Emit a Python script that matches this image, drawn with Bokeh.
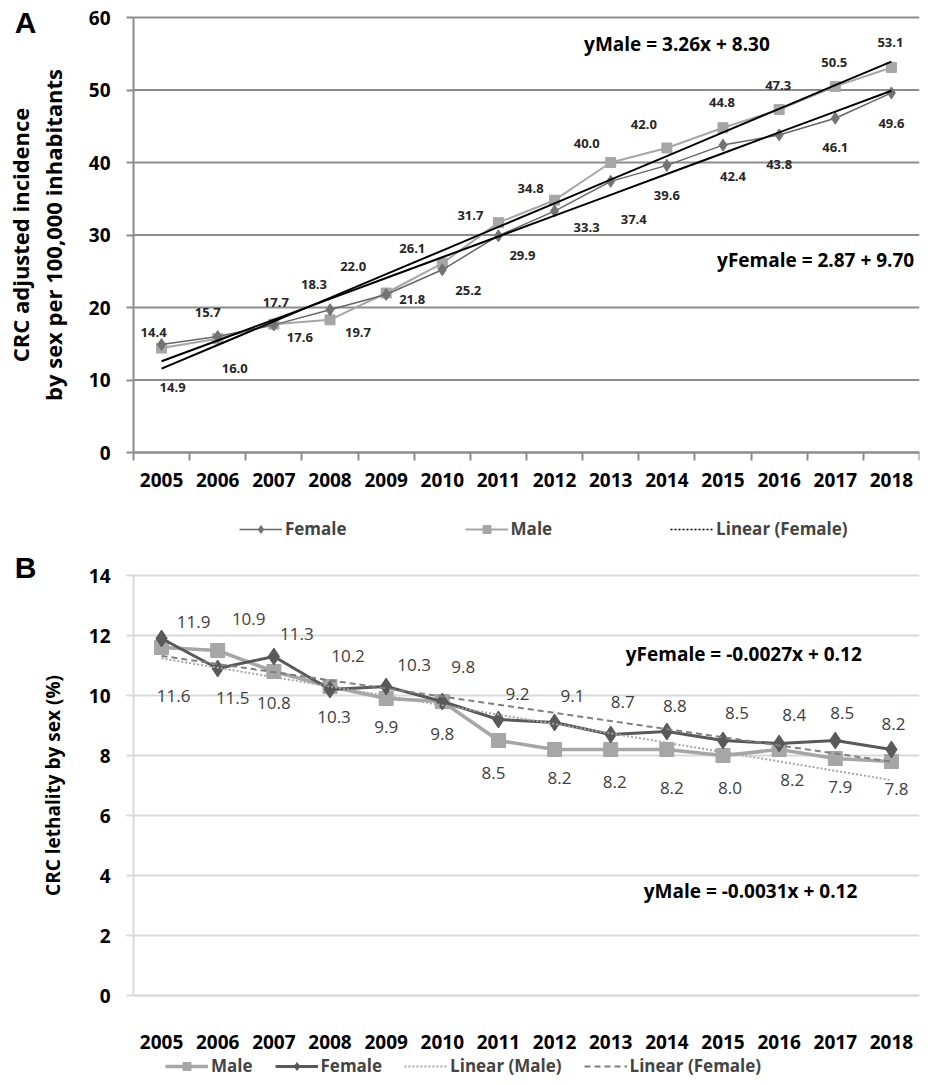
import numpy as np
from bokeh.plotting import figure
from bokeh.models import (ColumnDataSource, FixedTicker, Legend, LegendItem, Label, Range1d)
from bokeh.layouts import column
from bokeh.embed import file_html
from bokeh.resources import INLINE
from bokeh.core.properties import value

# ---------------- data ----------------
years = [2005, 2006, 2007, 2008, 2009, 2010, 2011, 2012, 2013, 2014, 2015, 2016, 2017, 2018]
inc_female = [14.9, 16.0, 17.6, 19.7, 21.8, 25.2, 29.9, 33.3, 37.4, 39.6, 42.4, 43.8, 46.1, 49.6]
inc_male = [14.4, 15.7, 17.7, 18.3, 22.0, 26.1, 31.7, 34.8, 40.0, 42.0, 44.8, 47.3, 50.5, 53.1]
let_male = [11.6, 11.5, 10.8, 10.3, 9.9, 9.8, 8.5, 8.2, 8.2, 8.2, 8.0, 8.2, 7.9, 7.8]
let_female = [11.9, 10.9, 11.3, 10.2, 10.3, 9.8, 9.2, 9.1, 8.7, 8.8, 8.5, 8.4, 8.5, 8.2]
a_ticks = [0, 10, 20, 30, 40, 50, 60]
b_ticks = [0, 2, 4, 6, 8, 10, 12, 14]
eq_a_male = "yMale = 3.26x + 8.30"
eq_a_female = "yFemale = 2.87 + 9.70"
eq_b_female = "yFemale = -0.0027x + 0.12"
eq_b_male = "yMale = -0.0031x + 0.12"

# label pixel offsets (dx right, dy down)
off_a_male = [(-8, -16), (-10, -26), (2, -22), (-16, -35), (-33, -27), (-30, -15), (-28, -7),
              (-24, -12), (-24, -19), (-23, -24), (-1, -25), (-1, -24), (-1, -24), (-1, -25)]
off_a_female = [(11, 43), (17, 32), (26, 13), (28, 23), (26, 5), (26, 21), (24, 20),
                (32, 16), (23, 38), (0, 30), (10, 31), (0, 30), (0, 29), (0, 31)]
off_b_female = [(32, -17), (31, -50), (23, -23), (18, -34), (28, -22), (21, -35), (19, -26),
                (18, -27), (12, -33), (8, -26), (14, -28), (15, -29), (7, -28), (2, -26)]
off_b_male = [(12, 48), (15, 47), (0, 31), (4, 30), (0, 28), (0, 32), (-5, 32),
              (5, 28), (4, 32), (5, 38), (7, 32), (13, 30), (5, 28), (5, 27)]

FONT = "Open Sans"
LEFT = 133          # pixels left of the plotting area (room for the y axis, drawn inside)
FRAME_W = 786
PPY = FRAME_W / len(years)
X0 = years[0] - 0.5
X1 = years[-1] + 0.5
X_START = X0 - LEFT / PPY
idx = np.arange(1, len(years) + 1)


def trend(vals):
    k, b = np.polyfit(idx, vals, 1)
    return list(k * idx + b)


def label_src(vals, offs):
    return ColumnDataSource(dict(x=years, y=vals, t=[f"{v:.1f}" for v in vals],
                                 dx=[o[0] for o in offs], dy=[o[1] for o in offs]))


def make_panel(height, ymax_tick, px_per_unit, top_pad, bottom_pad, grid_color, yticks, xminor,
               ylabel, ylabel_size):
    ytop = ymax_tick + top_pad / px_per_unit
    ybot = -bottom_pad / px_per_unit
    p = figure(width=LEFT + FRAME_W + 3, height=height, x_range=Range1d(X_START, X1),
               y_range=Range1d(ybot, ytop), output_backend="svg", toolbar_location=None,
               min_border_left=0, min_border_right=3, min_border_top=0, min_border_bottom=0,
               outline_line_color=None)
    p.xgrid.grid_line_color = None
    p.ygrid.grid_line_color = None
    # horizontal gridlines at the tick values, over the category span only
    p.segment(x0=X0, x1=X1, y0=yticks, y1=yticks, line_color=grid_color, line_width=2)
    p.yaxis.fixed_location = X0
    p.xaxis.fixed_location = 0
    p.yaxis.bounds = (0, ymax_tick)
    p.xaxis.bounds = (X0, X1)
    p.yaxis.ticker = FixedTicker(ticks=yticks, minor_ticks=[])
    if xminor:
        p.xaxis.ticker = FixedTicker(ticks=years, minor_ticks=[y - 0.5 for y in years] + [X1])
    else:
        p.xaxis.ticker = FixedTicker(ticks=years, minor_ticks=[])
    p.xaxis.major_label_overrides = {y: str(y) for y in years}
    for ax in (p.xaxis[0], p.yaxis[0]):
        ax.axis_line_color = grid_color
        ax.axis_line_width = 2
        ax.major_label_text_font = FONT
        ax.major_label_text_font_style = "bold"
        ax.major_label_text_font_size = "19px"
        ax.major_label_text_color = "black"
    p.yaxis.major_tick_out = 7
    p.yaxis.major_tick_in = 0
    p.yaxis.major_tick_line_color = grid_color
    p.yaxis.major_tick_line_width = 2
    p.yaxis.minor_tick_line_color = None
    p.yaxis.major_label_standoff = 16
    p.xaxis.major_tick_line_color = None
    p.xaxis.minor_tick_out = 8 if xminor else 0
    p.xaxis.minor_tick_in = 0
    p.xaxis.minor_tick_line_color = grid_color if xminor else None
    p.xaxis.minor_tick_line_width = 2
    p.yaxis.axis_label = ylabel
    p.yaxis.axis_label_text_font = FONT
    p.yaxis.axis_label_text_font_style = "bold"
    p.yaxis.axis_label_text_font_size = ylabel_size
    p.yaxis.axis_label_text_color = "black"
    p.yaxis.axis_label_text_line_height = 1.1
    p.yaxis.axis_label_standoff = 18
    return p


def legend_fig(height):
    # a strip that only carries a legend; its renderers sit outside its (0..1) ranges
    f = figure(width=LEFT + FRAME_W + 3, height=height, x_range=Range1d(0, 1), y_range=Range1d(0, 1),
               output_backend="svg", toolbar_location=None, x_axis_location=None,
               y_axis_location=None, min_border=0, outline_line_color=None)
    f.xgrid.grid_line_color = None
    f.ygrid.grid_line_color = None
    return f


def add_legend(f, items, spacing, loc):
    f.add_layout(Legend(items=items, orientation="horizontal", location=loc, border_line_color=None,
                        background_fill_alpha=0, label_text_font=FONT, label_text_font_style="bold",
                        label_text_font_size="17px", glyph_width=43, glyph_height=20, label_standoff=3,
                        label_height=20, spacing=spacing, margin=0, padding=0))


def panel_letter(p, text, y):
    p.add_layout(Label(x=X_START + 25 / PPY, y=y, text=text, text_font="Liberation Sans",
                       text_font_style="bold", text_font_size="30px", text_color="black",
                       text_align="center", text_baseline="middle"))


def equation(p, text, x, y):
    p.add_layout(Label(x=x, y=y, text=text, text_font=FONT, text_font_style="bold",
                       text_font_size="19px", text_color="black", text_align="center",
                       text_baseline="middle"))


# ---------------- Panel A ----------------
pA = make_panel(502, 60, 7.25, 17, 50, "#8c8c8c", a_ticks, True,
                "CRC adjusted incidence\nby sex per 100,000 inhabitants", "22px")
pA.xaxis.major_label_standoff = 12

male_a_style = dict(line_color="#a6a6a6", line_width=2)
male_a_mark = dict(marker="square", size=10, fill_color="#a6a6a6", line_color="#a6a6a6")
fem_a_style = dict(line_color="#666666", line_width=1.5)
fem_a_mark = dict(marker="diamond", size=12, fill_color="#737373", line_color="#737373")

pA.line(years, inc_male, **male_a_style)
pA.scatter(years, inc_male, **male_a_mark)
pA.line(years, inc_female, **fem_a_style)
pA.scatter(years, inc_female, **fem_a_mark)
pA.line(years, trend(inc_male), line_color="black", line_width=2)
pA.line(years, trend(inc_female), line_color="black", line_width=2)

for vals, offs in ((inc_male, off_a_male), (inc_female, off_a_female)):
    pA.text(x="x", y="y", text="t", x_offset="dx", y_offset="dy", source=label_src(vals, offs),
            text_font=value(FONT), text_font_style="bold", text_font_size="13px",
            text_color="#262626", text_align="center", text_baseline="middle")

equation(pA, eq_a_male, 2014.18, 56.4)
equation(pA, eq_a_female, 2016.65, 26.5)
panel_letter(pA, "A", 59.3)

# legend strip A
lA = legend_fig(49)
r_f = [lA.line(years, inc_female, **fem_a_style), lA.scatter(years, inc_female, **fem_a_mark)]
r_m = [lA.line(years, inc_male, **male_a_style), lA.scatter(years, inc_male, **male_a_mark)]
r_t = [lA.line(years, trend(inc_female), line_color="black", line_width=1.5, line_dash="2 2")]
add_legend(lA, [LegendItem(label="Female", renderers=r_f),
                LegendItem(label="Male", renderers=r_m),
                LegendItem(label="Linear (Female)", renderers=r_t)], 118, (239, 11))

# ---------------- Panel B ----------------
pB = make_panel(504, 14, 30, 24, 60, "#d9d9d9", b_ticks, False, "CRC lethality by sex (%)", "19px")
pB.yaxis.axis_label_standoff = 20
pB.xaxis.major_label_standoff = 33

male_b_style = dict(line_color="#a6a6a6", line_width=3.5)
male_b_mark = dict(marker="square", size=14, fill_color="#a6a6a6", line_color="#a6a6a6")
fem_b_style = dict(line_color="#595959", line_width=3)
fem_b_mark = dict(marker="diamond", size=17, fill_color="#595959", line_color="#595959")
tm_b_style = dict(line_color="#a6a6a6", line_width=2, line_dash="2 2")
tf_b_style = dict(line_color="#7f7f7f", line_width=2, line_dash="6 4")

pB.line(years, let_male, **male_b_style)
pB.scatter(years, let_male, **male_b_mark)
pB.line(years, let_female, **fem_b_style)
pB.scatter(years, let_female, **fem_b_mark)
pB.line(years, trend(let_male), **tm_b_style)
pB.line(years, trend(let_female), **tf_b_style)

for vals, offs in ((let_female, off_b_female), (let_male, off_b_male)):
    pB.text(x="x", y="y", text="t", x_offset="dx", y_offset="dy", source=label_src(vals, offs),
            text_font=value(FONT), text_font_size="17px", text_color="#404040",
            text_align="center", text_baseline="middle")

equation(pB, eq_b_female, 2015.37, 11.37)
equation(pB, eq_b_male, 2015.49, 3.5)
panel_letter(pB, "B", 14.27)

# legend strip B
lB = legend_fig(22)
rb_m = [lB.line(years, let_male, **male_b_style), lB.scatter(years, let_male, **male_b_mark)]
rb_f = [lB.line(years, let_female, **fem_b_style), lB.scatter(years, let_female, **fem_b_mark)]
rb_tm = [lB.line(years, trend(let_male), **tm_b_style)]
rb_tf = [lB.line(years, trend(let_female), **tf_b_style)]
add_legend(lB, [LegendItem(label="Male", renderers=rb_m),
                LegendItem(label="Female", renderers=rb_f),
                LegendItem(label="Linear (Male)", renderers=rb_tm),
                LegendItem(label="Linear (Female)", renderers=rb_tf)], 22, (165, 0))

layout = column(pA, lA, pB, lB, spacing=0)
open("out.html", "w").write(file_html(layout, INLINE))
